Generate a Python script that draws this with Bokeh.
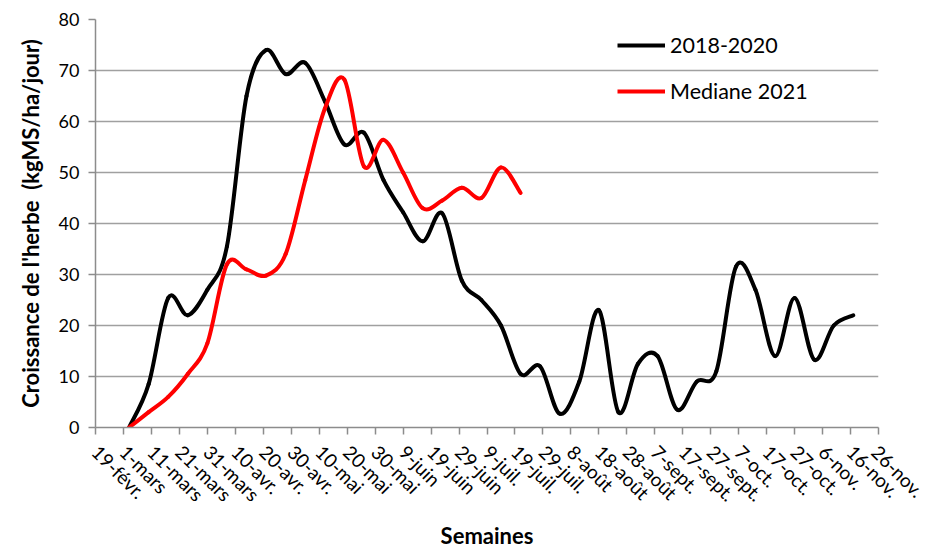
import math
from bokeh.plotting import figure
from bokeh.models import FixedTicker, Legend, LegendItem, ColumnDataSource
from bokeh.embed import file_html
from bokeh.resources import INLINE

# ---- data ----
tick_days = list(range(0, 290, 10))
tick_labels = ["19-févr.", "1-mars", "11-mars", "21-mars", "31-mars", "10-avr.", "20-avr.",
               "30-avr.", "10-mai", "20-mai", "30-mai", "9-juin", "19-juin", "29-juin",
               "9-juil.", "19-juil.", "29-juil.", "8-août", "18-août", "28-août", "7-sept.",
               "17-sept.", "27-sept.", "7-oct.", "17-oct.", "27-oct.", "6-nov.", "16-nov.",
               "26-nov."]

premier_jour = 12  # first weekly measurement, days after 19-févr.
pas_semaine = 7

serie_2018_2020 = [0, 8.5, 25.4, 22.0, 27.0, 35.5, 65.0, 74.0, 69.3, 71.5,
                   64.0, 55.5, 57.8, 48.5, 42.2, 36.5, 42.0, 28.8, 25.0, 20.0,
                   10.5, 12.0, 2.7, 9.0, 23.0, 3.0, 12.5, 14.0, 3.5, 9.0,
                   11.0, 31.5, 27.0, 14.0, 25.4, 13.3, 20.0, 22.0]
mediane_2021 = [0, 3.0, 6.0, 10.5, 16.5, 32.0, 31.0, 29.8, 34.0, 48.5,
                62.5, 68.2, 51.2, 56.4, 50.0, 43.0, 44.5, 47.0, 45.0, 51.0, 46.0]

x_2018_2020 = [premier_jour + pas_semaine * i for i in range(len(serie_2018_2020))]
x_2021 = [premier_jour + pas_semaine * i for i in range(len(mediane_2021))]


def smooth_segments(xs, ys):
    """Cubic Bezier segments (Catmull-Rom style, like a spreadsheet 'smoothed line')."""
    n = len(xs)
    d = dict(x0=[], y0=[], x1=[], y1=[], cx0=[], cy0=[], cx1=[], cy1=[])
    for i in range(n - 1):
        p0 = (xs[i - 1], ys[i - 1]) if i > 0 else (xs[i], ys[i])
        p1 = (xs[i], ys[i])
        p2 = (xs[i + 1], ys[i + 1])
        p3 = (xs[i + 2], ys[i + 2]) if i + 2 < n else p2
        d["x0"].append(p1[0]); d["y0"].append(p1[1])
        d["x1"].append(p2[0]); d["y1"].append(p2[1])
        d["cx0"].append(p1[0] + (p2[0] - p0[0]) / 6.0)
        d["cy0"].append(p1[1] + (p2[1] - p0[1]) / 6.0)
        d["cx1"].append(p2[0] - (p3[0] - p1[0]) / 6.0)
        d["cy1"].append(p2[1] - (p3[1] - p1[1]) / 6.0)
    return ColumnDataSource(d)


FONT = "Lato"

p = figure(width=928, height=551, x_range=(0, 280), y_range=(0, 80),
           output_backend="svg", toolbar_location=None,
           min_border_left=95, min_border_right=50, min_border_top=19, min_border_bottom=124)
p.outline_line_color = None
p.background_fill_color = "white"
p.border_fill_color = "white"

# grid
p.xgrid.grid_line_color = None
p.ygrid.grid_line_color = "#a0a0a0"
p.ygrid.grid_line_width = 1.5

# axes
p.xaxis.ticker = FixedTicker(ticks=tick_days)
p.xaxis.major_label_overrides = {d: lab for d, lab in zip(tick_days, tick_labels)}
p.xaxis.major_label_orientation = -math.pi / 4
p.yaxis.ticker = FixedTicker(ticks=list(range(0, 90, 10)))
for ax in (p.xaxis, p.yaxis):
    ax.axis_line_color = "#8c8c8c"
    ax.axis_line_width = 1.5
    ax.major_tick_line_color = "#8c8c8c"
    ax.major_tick_line_width = 1.5
    ax.major_tick_in = 0
    ax.major_tick_out = 7
    ax.minor_tick_line_color = None
    ax.major_label_text_font = FONT
    ax.major_label_text_color = "black"
p.yaxis.major_label_text_font_size = "18px"
p.xaxis.major_label_text_font_size = "19px"
p.yaxis.major_label_standoff = 9
p.xaxis.major_label_standoff = 14

p.yaxis.axis_label = "Croissance de l'herbe\u00a0 (kgMS/ha/jour)"
p.xaxis.axis_label = "Semaines"
for ax in (p.xaxis, p.yaxis):
    ax.axis_label_text_font = FONT
    ax.axis_label_text_font_style = "bold"
    ax.axis_label_text_font_size = "22px"
    ax.axis_label_text_color = "black"
p.yaxis.axis_label_standoff = 12
p.xaxis.axis_label_standoff = 5
p.xaxis.axis_label_text_line_height = 0.5

# smooth series
p.bezier(x0="x0", y0="y0", x1="x1", y1="y1", cx0="cx0", cy0="cy0", cx1="cx1", cy1="cy1",
         source=smooth_segments(x_2018_2020, serie_2018_2020),
         line_color="black", line_width=4, line_cap="round")
p.bezier(x0="x0", y0="y0", x1="x1", y1="y1", cx0="cx0", cy0="cy0", cx1="cx1", cy1="cy1",
         source=smooth_segments(x_2021, mediane_2021),
         line_color="#ff0000", line_width=4, line_cap="round")

# legend handles (drawn outside the visible ranges, used only for the legend swatches)
leg_black = p.line(x=[-20, -10], y=[-20, -20], line_color="black", line_width=4)
leg_red = p.line(x=[-20, -10], y=[-20, -20], line_color="#ff0000", line_width=4)
legend = Legend(items=[LegendItem(label="2018-2020", renderers=[leg_black]),
                       LegendItem(label="Mediane 2021", renderers=[leg_red])],
                location=(522, 323), padding=0, margin=0, spacing=20,
                glyph_width=48, glyph_height=22, label_height=22, label_standoff=5,
                label_text_font=FONT, label_text_font_size="21.5px", label_text_color="black",
                background_fill_alpha=0, border_line_alpha=0)
p.add_layout(legend)

open("out.html", "w").write(file_html(p, INLINE))
